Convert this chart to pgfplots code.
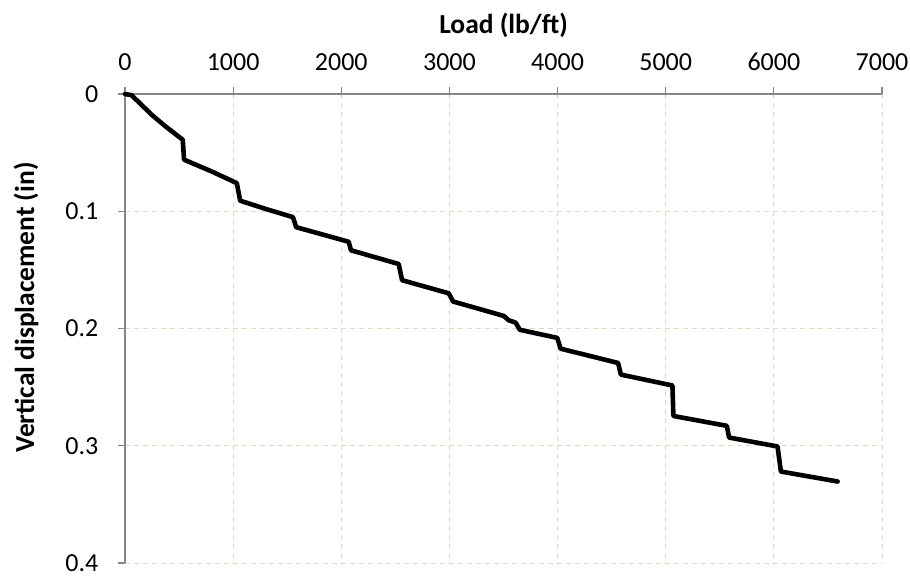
\documentclass[border=0pt]{standalone}
\usepackage{fontspec}
\setmainfont{Carlito}
\usepackage{pgfplots}
\pgfplotsset{compat=1.18}

\definecolor{axisgray}{RGB}{134,134,134}
\definecolor{gridtan}{RGB}{221,217,195}

\begin{document}
\begin{tikzpicture}
\begin{axis}[
  name=ax,
  scale only axis,
  width=757pt, height=469pt,
  xmin=0, xmax=7000, ymin=0, ymax=0.4,
  y dir=reverse,
  axis x line*=top, axis y line*=left,
  axis line style={axisgray, line width=1.2pt, -},
  xtick={0,1000,...,7000},
  ytick={0,0.1,0.2,0.3,0.4},
  xticklabels={0,1000,2000,3000,4000,5000,6000,7000},
  yticklabels={0,0.1,0.2,0.3,0.4},
  tick align=outside,
  major tick length=7pt,
  tick style={axisgray, line width=1.2pt},
  grid=major,
  major grid style={gridtan, line width=0.9pt, dash pattern=on 5pt off 4pt},
  ticklabel style={font=\fontsize{26}{30}\selectfont},
  xticklabel style={yshift=13pt},
  yticklabel style={inner sep=0pt, xshift=-19.5pt},
  /pgf/number format/assume math mode=true,
  xlabel={Load (lb/ft)},
  ylabel={Vertical displacement (in)},
  label style={font=\fontsize{27.5}{32}\selectfont\bfseries},
  xlabel style={at={(axis description cs:0.5,1)}, anchor=base, yshift=61pt},
  ylabel style={at={(axis description cs:-0.1308,0.5446)}, anchor=center},
  clip=false,
]
% load-displacement response with the stepwise creep at each load hold
\addplot[black, line width=4.6pt, line join=round, line cap=round] coordinates {
  (0,0) (60,0.001) (150,0.009) (250,0.018) (380,0.028) (534,0.039)
  (546,0.056) (800,0.066) (1034,0.076)
  (1065,0.091) (1300,0.098) (1553,0.105)
  (1583,0.1136) (2068,0.126)
  (2090,0.1333) (2531,0.145)
  (2562,0.1588) (2994,0.170)
  (3034,0.177) (3287,0.1836) (3503,0.1893)
  (3549,0.193) (3611,0.1949)
  (3651,0.2011) (3997,0.208)
  (4028,0.2172) (4560,0.2294)
  (4585,0.2393) (5062,0.2486)
  (5071,0.2746) (5565,0.283)
  (5586,0.293) (6034,0.3006)
  (6065,0.322) (6590,0.3305)
};
\coordinate (sw) at (axis description cs:0,0);
\coordinate (ne) at (axis description cs:1,1);
\end{axis}
\pgfresetboundingbox
\path ([shift={(-125pt,-12pt)}]sw) rectangle ([shift={(28pt,94pt)}]ne);
\end{tikzpicture}
\end{document}
